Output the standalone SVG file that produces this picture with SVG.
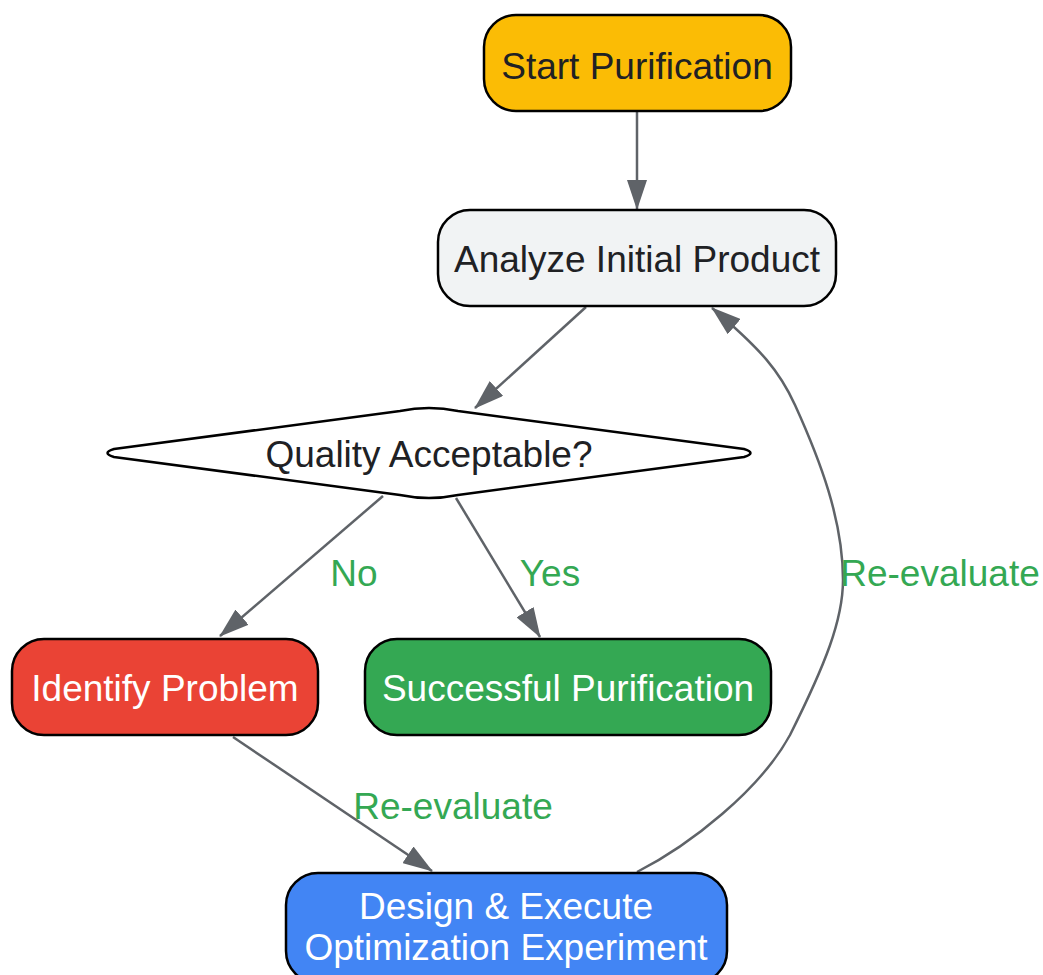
<svg xmlns="http://www.w3.org/2000/svg" width="1043" height="975" viewBox="0 0 1043 975">
<style>
.node{stroke:#000;stroke-width:2.5}
.t{font-family:"Liberation Sans",Arial,sans-serif;font-size:37px;text-anchor:middle}
.dark{fill:#202124}
.light{fill:#ffffff}
.lbl{font-family:"Liberation Sans",Arial,sans-serif;font-size:37px;text-anchor:middle;fill:#34A853}
.edge{fill:none;stroke:#5F6368;stroke-width:2.5}
</style>
<defs>
<marker id="arr" markerUnits="userSpaceOnUse" markerWidth="30" markerHeight="20" refX="29" refY="10" orient="auto">
<path d="M0,0 L30,10 L0,20 Z" fill="#5F6368"/>
</marker>
</defs>
<rect width="1043" height="975" fill="#ffffff"/>
<g id="connectors">
<line class="edge" x1="637" y1="111" x2="637" y2="209" marker-end="url(#arr)"/>
<line class="edge" x1="586" y1="307" x2="475" y2="408" marker-end="url(#arr)"/>
<line class="edge" x1="383" y1="496" x2="220" y2="636" marker-end="url(#arr)"/>
<line class="edge" x1="456" y1="498" x2="540" y2="637" marker-end="url(#arr)"/>
<line class="edge" x1="233" y1="737" x2="432" y2="871" marker-end="url(#arr)"/>
<path class="edge" d="M637,872 C690,845 760,790 790,735 C825,665 843,620 843,580 C843,520 820,460 795,405 C780,372 762,350 712,308" marker-end="url(#arr)"/>
<text class="lbl" x="354" y="586">No</text>
<text class="lbl" x="550" y="586">Yes</text>
<text class="lbl" x="453" y="819">Re-evaluate</text>
<text class="lbl" x="940" y="586">Re-evaluate</text>
</g>
<g id="start">
<rect class="node" x="484" y="15" width="307" height="96" rx="32" fill="#FBBC05"/>
<text class="t dark" x="637" y="79">Start Purification</text>
</g>
<g id="analyze">
<rect class="node" x="438" y="210" width="398" height="96" rx="32" fill="#F1F3F4"/>
<text class="t dark" x="637" y="272">Analyze Initial Product</text>
</g>
<g id="quality">
<path class="node" fill="#ffffff" d="M114,449 L400,411 Q429,405 458,411 L744,449 Q757,453 744,457 L458,495 Q429,501 400,495 L114,457 Q101,453 114,449 Z"/>
<text class="t dark" x="429" y="467">Quality Acceptable?</text>
</g>
<g id="identify">
<rect class="node" x="12" y="639" width="306" height="96" rx="32" fill="#EA4335"/>
<text class="t light" x="165" y="701">Identify Problem</text>
</g>
<g id="success">
<rect class="node" x="365" y="639" width="406" height="96" rx="32" fill="#34A853"/>
<text class="t light" x="568" y="701">Successful Purification</text>
</g>
<g id="design">
<rect class="node" x="286" y="873" width="441" height="110" rx="32" fill="#4285F4"/>
<text class="t light" x="506" y="919">Design &amp; Execute</text>
<text class="t light" x="506" y="960">Optimization Experiment</text>
</g>
</svg>
